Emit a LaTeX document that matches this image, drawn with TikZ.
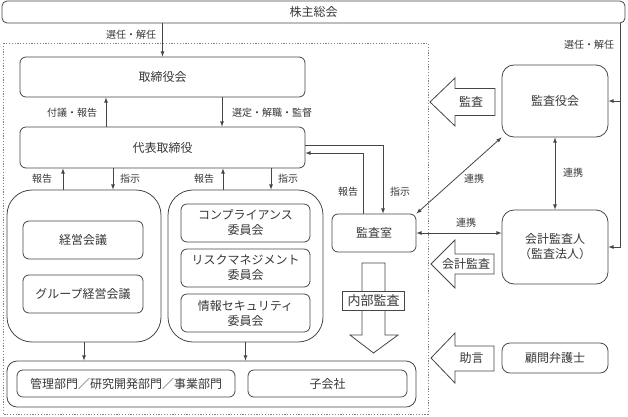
\documentclass[tikz,border=0pt]{standalone}
\usepackage{fontspec}
\newfontfamily\jp{Noto Sans CJK JP}
\definecolor{linegray}{RGB}{70,70,70}
\definecolor{textgray}{RGB}{55,55,55}
\tikzset{
	box/.style={draw=linegray, line width=0.8pt, rounded corners=6pt, align=center, inner sep=0pt,
		text=textgray, font=\jp\fontsize{12}{15}\selectfont},
	bigbox/.style={box, rounded corners=25pt},
	lbl/.style={text=textgray, inner sep=1pt, font=\jp\fontsize{10}{12}\selectfont},
	blbl/.style={text=textgray, inner sep=1pt, font=\jp\fontsize{12}{14}\selectfont},
	arr/.style={draw=linegray, line width=0.8pt, -latex},
	dblarr/.style={draw=linegray, line width=0.8pt, latex-latex},
	blockarr/.style={draw=linegray, line width=0.8pt, fill=white},
}
\begin{document}
\begin{tikzpicture}[x=1pt,y=-1pt]
	\useasboundingbox (0,0) rectangle (628,416);
	\draw[gray, line width=0.8pt, dash pattern=on 1.2pt off 1.6pt] (3,43) rectangle (428,414);% company frame
	
	\node[box, minimum width=623pt, minimum height=22pt, rounded corners=5pt] (soukai) at (313.5,12) {株主総会};
	\node[box, minimum width=285pt, minimum height=40pt] (torikai) at (162.5,77) {取締役会};
	\node[box, minimum width=285pt, minimum height=41pt] (daihyo) at (162.5,147.5) {代表取締役};
	
	% meetings and committees
	\node[bigbox, minimum width=154pt, minimum height=152pt] (keieigrp) at (84,266) {};
	\node[box, minimum width=120pt, minimum height=38pt] (keiei) at (83,240) {経営会議};
	\node[box, minimum width=120pt, minimum height=38pt] (group) at (83,294) {グループ経営会議};
	\node[bigbox, minimum width=155pt, minimum height=152pt] (iinkai) at (245.5,266) {};
	\node[box, minimum width=129pt, minimum height=38pt] (compl) at (245.5,223) {コンプライアンス\\委員会};
	\node[box, minimum width=129pt, minimum height=38pt] (risk) at (245.5,268) {リスクマネジメント\\委員会};
	\node[box, minimum width=129pt, minimum height=38pt] (joho) at (245.5,313) {情報セキュリティ\\委員会};
	
	\node[box, minimum width=409pt, minimum height=46pt, rounded corners=10pt] (bumon) at (211.5,384) {};
	\node[box, minimum width=218pt, minimum height=27pt] (kanri) at (126,383.5) {管理部門／研究開発部門／事業部門};
	\node[box, minimum width=159pt, minimum height=27pt] (kogaisha) at (327.5,383.5) {子会社};
	
	\node[box, minimum width=84pt, minimum height=38pt] (shitsu) at (374,233) {監査室};
	\node[box, minimum width=106pt, minimum height=72pt, rounded corners=12pt] (yakukai) at (555,101) {監査役会};
	\node[box, minimum width=106pt, minimum height=74pt, rounded corners=12pt] (kaikei) at (555,247) {会計監査人\\（監査法人）};
	\node[box, minimum width=106pt, minimum height=30pt, rounded corners=8pt] (komon) at (555,358) {顧問弁護士};
	
	% block arrows
	\draw[blockarr] (362,263) -- (385,263) -- (385,335) -- (398,335) -- (373.5,353) -- (350,335) -- (362,335) -- cycle;
	\node[draw=linegray, line width=0.8pt, fill=white, inner sep=0pt, minimum width=62pt, minimum height=19pt,
		text=textgray, font=\jp\fontsize{13}{14}\selectfont] (naibu) at (373.5,300.5) {内部監査};
	\draw[blockarr] (495,88.5) -- (455,88.5) -- (455,78) -- (430,102) -- (455,126) -- (455,115.5) -- (495,115.5) -- cycle;
	\node[blbl] (kansa) at (471,102) {監査};
	\draw[blockarr] (494,254) -- (455,254) -- (455,240) -- (431,264) -- (455,288) -- (455,274) -- (494,274) -- cycle;
	\node[blbl] (kaikeikansa) at (466,264) {会計監査};
	\draw[blockarr] (494,346) -- (455,346) -- (455,333) -- (431,358) -- (455,383) -- (455,371) -- (494,371) -- cycle;
	\node[blbl] (jogen) at (471.5,358) {助言};
	
	% connectors
	\draw[arr] (soukai.south -| torikai.north) -- (torikai.north);
	\node[lbl] (sennin1) at (131,35) {選任・解任};
	\draw[arr] (106,0 |- daihyo.north) -- (106,0 |- torikai.south);
	\node[lbl] (fugi) at (72,113) {付議・報告};
	\draw[arr] (222,0 |- torikai.south) -- (222,0 |- daihyo.north);
	\node[lbl] (sentei) at (272,113) {選定・解職・監督};
	
	\draw[arr] (63,0 |- keieigrp.north) -- (63,0 |- daihyo.south);
	\draw[arr] (113,0 |- daihyo.south) -- (113,0 |- keieigrp.north);
	\draw[arr] (223,0 |- iinkai.north) -- (223,0 |- daihyo.south);
	\draw[arr] (271,0 |- daihyo.south) -- (271,0 |- iinkai.north);
	\node[lbl] (houkoku1) at (42,179) {報告};
	\node[lbl] (shiji1) at (130,179) {指示};
	\node[lbl] (houkoku2) at (204,179) {報告};
	\node[lbl] (shiji2) at (288,179) {指示};
	\draw[arr] (keieigrp.south) -- (keieigrp.south |- bumon.north);
	\draw[arr] (iinkai.south) -- (iinkai.south |- bumon.north);
	
	\draw[arr] ([yshift=2.5pt]daihyo.east) -| (383,0 |- shitsu.north);
	\draw[arr] (363,0 |- shitsu.north) |- ([yshift=-5.5pt]daihyo.east);
	\node[lbl] (houkoku3) at (348,192) {報告};
	\node[lbl] (shiji3) at (400,192) {指示};
	
	\draw[dblarr] (shitsu.north east) -- (yakukai.south west);
	\node[lbl] (renkei1) at (474,179) {連携};
	\draw[dblarr] (yakukai.south) -- (kaikei.north);
	\node[lbl] (renkei2) at (573,173) {連携};
	\draw[dblarr] (shitsu.east) -- (shitsu.east -| kaikei.west);
	\node[lbl] (renkei3) at (466,223) {連携};
	
	\draw[arr] (soukai.south -| 620,0) |- (kaikei.east);
	\draw[arr] (620,0 |- yakukai.east) -- (yakukai.east);
	\node[lbl] (sennin2) at (589,45) {選任・解任};
\end{tikzpicture}
\end{document}
